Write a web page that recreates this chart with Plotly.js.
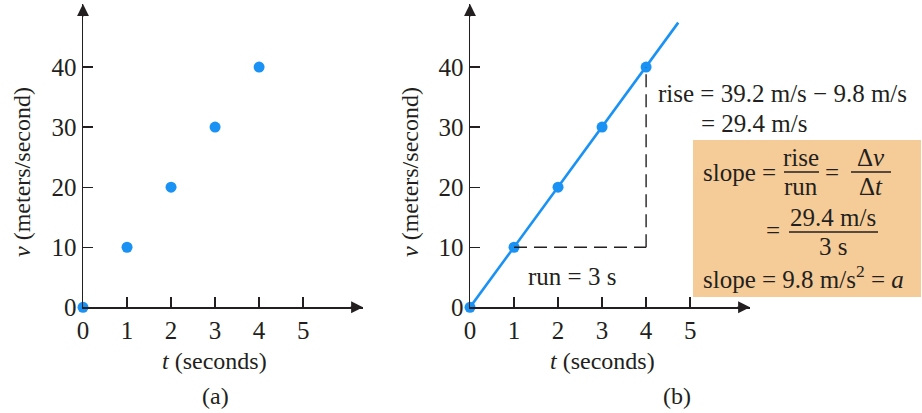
<!DOCTYPE html>
<html>
<head>
<meta charset="utf-8">
<script src="https://cdn.plot.ly/plotly-3.0.1.min.js"></script>
<style>html,body{margin:0;padding:0;background:#fff;}#chart{width:922px;height:413px;}</style>
</head>
<body>
<div id="chart"></div>
<script>
// ---- data ----
const timeSec = [0, 1, 2, 3, 4];
const velocity = [0, 10, 20, 30, 40];
const lineT = [0, 1, 2, 3, 4, 4.73];
const lineV = [0, 10, 20, 30, 40, 47.4];
const xTickVals = [0, 1, 2, 3, 4, 5];
const yTickVals = [0, 10, 20, 30, 40];
const runStart = 1, runEnd = 4, riseLow = 10, riseHigh = 40;
const xMax = 6.36, yMax = 50.5;

// ---- style ----
const INK = '#231F20';
const BLUE = '#1A92F4';
const FONT = 'Liberation Serif, DejaVu Serif, serif';
const W = 922, H = 413;
const px = x => x / W;
const py = y => 1 - y / H;

function axisX(domain, anchor) {
  return {
    domain: domain, anchor: anchor, range: [0, xMax],
    showgrid: false, zeroline: false, showline: true, linecolor: INK, linewidth: 1.4,
    ticks: 'inside', ticklen: 10, tickwidth: 1.3, tickcolor: INK,
    tickvals: xTickVals, ticktext: xTickVals.map(String),
    tickfont: {family: FONT, size: 25, color: INK}, ticklabelstandoff: 0, fixedrange: true
  };
}
function axisY(anchor) {
  return {
    domain: [py(307.3), py(4)], anchor: anchor, range: [0, yMax],
    showgrid: false, zeroline: false, showline: true, linecolor: INK, linewidth: 1.4,
    ticks: 'inside', ticklen: 10, tickwidth: 1.3, tickcolor: INK,
    tickvals: yTickVals, ticktext: yTickVals.map(String),
    tickfont: {family: FONT, size: 25, color: INK}, ticklabelstandoff: 0, fixedrange: true
  };
}

const traces = [
  {x: timeSec, y: velocity, xaxis: 'x', yaxis: 'y', mode: 'markers', type: 'scatter',
   marker: {color: BLUE, size: 11}, cliponaxis: false, hoverinfo: 'skip', showlegend: false},
  {x: lineT, y: lineV, xaxis: 'x2', yaxis: 'y2', mode: 'lines', type: 'scatter',
   line: {color: BLUE, width: 2.6}, cliponaxis: false, hoverinfo: 'skip', showlegend: false},
  {x: timeSec, y: velocity, xaxis: 'x2', yaxis: 'y2', mode: 'markers', type: 'scatter',
   marker: {color: BLUE, size: 11}, cliponaxis: false, hoverinfo: 'skip', showlegend: false}
];

function txt(x, y, text, size, xanchor, extra) {
  return Object.assign({xref: 'paper', yref: 'paper', x: px(x), y: py(y), text: text, showarrow: false,
    xanchor: xanchor || 'center', yanchor: 'middle', font: {family: FONT, size: size || 25, color: INK}}, extra || {});
}
function arrow(xr, yr, x, y, ax, ay) {
  return {xref: xr, yref: yr, axref: 'pixel', ayref: 'pixel', x: x, y: y, ax: ax, ay: ay, text: '',
    showarrow: true, arrowhead: 2, arrowsize: 1.7, arrowwidth: 1.4, arrowcolor: INK, standoff: 0};
}

const annotations = [
  // axis arrows
  arrow('x', 'y', xMax, 0, -14, 0),
  arrow('x', 'y', 0, yMax, 0, 14),
  arrow('x2', 'y2', xMax, 0, -14, 0),
  arrow('x2', 'y2', 0, yMax, 0, 14),
  // panel (a) titles
  txt(22, 172, '<i>v</i> (meters/second)', 24, 'center', {textangle: -90}),
  txt(214, 361, '<i>t</i> (seconds)', 24),
  txt(215, 396, '(a)', 24),
  // panel (b) titles
  txt(410, 172, '<i>v</i> (meters/second)', 24, 'center', {textangle: -90}),
  txt(602, 361, '<i>t</i> (seconds)', 24),
  txt(677, 396, '(b)', 24),
  // rise/run labels
  txt(572, 276, 'run = 3 s', 25),
  txt(656, 93, 'rise = 39.2 m/s \u2212 9.8 m/s', 25, 'left'),
  txt(699, 123, '= 29.4 m/s', 25, 'left'),
  // box contents
  txt(701, 172, 'slope =', 25, 'left'),
  txt(801, 157, 'rise', 25),
  txt(801, 186, 'run', 25),
  txt(832, 172, '=', 25),
  txt(871, 157, '\u0394<i>v</i>', 25),
  txt(871, 186, '\u0394<i>t</i>', 25),
  txt(773, 230, '=', 25),
  txt(833, 217, '29.4 m/s', 25),
  txt(833, 246, '3 s', 25),
  txt(701, 277, 'slope = 9.8 m/s<sup>2</sup> = <i>a</i>', 25, 'left')
];

const shapes = [
  {type: 'rect', xref: 'paper', yref: 'paper', x0: px(693), x1: px(921), y0: py(297), y1: py(140),
   fillcolor: '#F5CB97', line: {width: 0}, layer: 'below'},
  {type: 'line', xref: 'x2', yref: 'y2', x0: runStart, x1: runEnd, y0: riseLow, y1: riseLow,
   line: {color: INK, width: 1.4, dash: '13px,7px'}},
  {type: 'line', xref: 'x2', yref: 'y2', x0: runEnd, x1: runEnd, y0: riseLow, y1: riseHigh,
   line: {color: INK, width: 1.4, dash: '13px,7px'}},
  // fraction bars
  {type: 'line', xref: 'paper', yref: 'paper', x0: px(784), x1: px(819), y0: py(172), y1: py(172), line: {color: INK, width: 1.5}},
  {type: 'line', xref: 'paper', yref: 'paper', x0: px(851), x1: px(891), y0: py(172), y1: py(172), line: {color: INK, width: 1.5}},
  {type: 'line', xref: 'paper', yref: 'paper', x0: px(789), x1: px(878), y0: py(232), y1: py(232), line: {color: INK, width: 1.5}}
];

const layout = {
  width: W, height: H,
  margin: {l: 0, r: 0, t: 0, b: 0},
  paper_bgcolor: '#fff', plot_bgcolor: 'rgba(0,0,0,0)',
  showlegend: false,
  xaxis: axisX([px(83), px(363)], 'y'),
  yaxis: axisY('x'),
  xaxis2: axisX([px(470), px(750)], 'y2'),
  yaxis2: axisY('x2'),
  annotations: annotations,
  shapes: shapes
};

Plotly.newPlot('chart', traces, layout, {displayModeBar: false, staticPlot: true});
</script>
</body>
</html>
